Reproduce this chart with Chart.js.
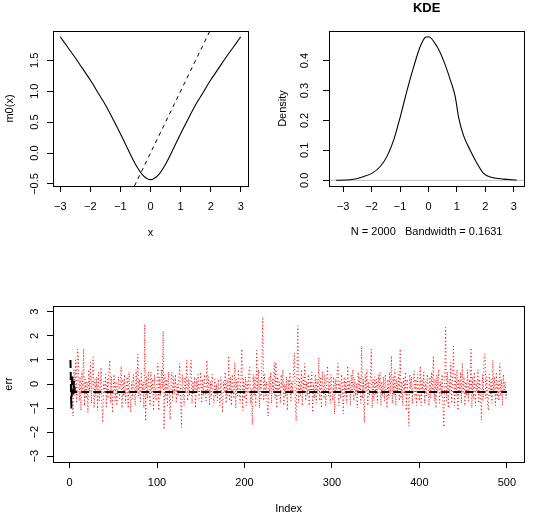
<!DOCTYPE html>
<html>
<head>
<meta charset="utf-8">
<script src="https://cdn.jsdelivr.net/npm/chart.js@4.4.1/dist/chart.umd.min.js"></script>
<style>
  html, body { margin: 0; padding: 0; background: #fff; }
  #wrap { position: relative; width: 540px; height: 517px; }
  canvas { position: absolute; }
</style>
</head>
<body>
<div id="wrap">
  <canvas id="m0Chart" width="270" height="258" style="left:0;top:0"></canvas>
  <canvas id="kdeChart" width="270" height="258" style="left:270px;top:0"></canvas>
  <canvas id="errChart" width="540" height="259" style="left:0;top:258px"></canvas>
</div>
<script>
// panel 1: m0(x) with the identity reference line
const m0X = [-3, -2.75, -2.5, -2.25, -2, -1.75, -1.5, -1.25, -1, -0.75, -0.5, -0.25, 0,
             0.25, 0.5, 0.75, 1, 1.25, 1.5, 1.75, 2, 2.25, 2.5, 2.75, 3];
const m0Y = [1.88, 1.71, 1.54, 1.36, 1.18, 0.98, 0.78, 0.55, 0.31, 0.06, -0.18, -0.36, -0.43,
             -0.36, -0.18, 0.06, 0.31, 0.55, 0.78, 0.98, 1.18, 1.36, 1.54, 1.71, 1.88];
const refX = [-1, 3];
const refY = [-1, 3];
const m0XTicks = [-3, -2, -1, 0, 1, 2, 3];
const m0XTickLabels = ['−3', '−2', '−1', '0', '1', '2', '3'];
const m0YTicks = [-0.5, 0, 0.5, 1, 1.5];
const m0YTickLabels = ['−0.5', '0.0', '0.5', '1.0', '1.5'];

// panel 2: kernel density
const kdeX = [-3.25, -2.75, -2.27, -1.98, -1.69, -1.46, -1.22, -0.99, -0.75, -0.52, -0.29, -0.11, 0,
              0.3, 0.53, 0.77, 0.94, 1.06, 1.23, 1.47, 1.7, 1.93, 2.17, 2.64, 3.1];
const kdeY = [0, 0.002, 0.013, 0.024, 0.047, 0.08, 0.136, 0.213, 0.302, 0.38, 0.447, 0.478, 0.48,
              0.447, 0.40, 0.335, 0.28, 0.21, 0.15, 0.10, 0.058, 0.024, 0.011, 0.004, 0.001];
const kdeZeroX = [-4, 4];
const kdeZeroY = [0, 0];
const kdeXTicks = [-3, -2, -1, 0, 1, 2, 3];
const kdeXTickLabels = ['−3', '−2', '−1', '0', '1', '2', '3'];
const kdeYTicks = [0, 0.1, 0.2, 0.3, 0.4];
const kdeYTickLabels = ['0.0', '0.1', '0.2', '0.3', '0.4'];

// panel 3: err by index (red dotted) and fitted level (black dashed)
const errValues = [
  -0.2, 0.4, -0.9, -1.33, 0.6, -0.5, 1.0, -0.8, 1.45, 1.2,
  -0.7, 0.3, -1.1, 0.5, -0.4, 1.45, -0.9, 0.2, -0.6, 0.1,
  -1.2, 0.6, -0.3, 0.9, -0.8, 0.4, 1.13, -1.0, 0.2, -0.5,
  0.3, -1.1, 0.5, -0.7, -0.2, 0.68, -0.9, -1.6, 0.1, -0.4,
  0.4, -1.0, 0.2, -0.6, 0.5, 0.99, -0.8, 0.3, -1.2, -0.1,
  0.4, -0.7, 0.1, -0.9, -0.2, 0.3, -0.6, 0.0, 0.75, -1.0,
  0.2, -0.5, 0.4, -0.8, -0.1, 0.3, -1.0, 0.5, -0.4, -1.18,
  0.1, -0.6, 0.4, -0.2, -0.9, 0.6, -0.3, 1.24, -0.5, 0.2,
  -0.8, 0.5, -0.4, 0.1, -1.0, 2.49, -1.54, 0.3, -0.6, 0.5,
  -0.2, -0.9, 0.5, -0.4, 0.2, -1.1, 0.4, -0.3, -0.7, 0.1,
  0.86, -1.1, 0.3, -0.5, 0.6, -0.2, 2.2, -1.89, 0.4, -0.6,
  0.2, -0.9, 0.5, -0.3, -1.47, 0.1, 0.5, -0.7, 0.3, -0.4,
  0.4, -0.8, 0.0, -0.5, 0.3, 0.85, -0.6, -1.8, 0.4, -0.2,
  -0.9, 0.3, -0.4, 1.0, -0.7, 0.2, -0.5, 0.6, 0.99, -0.8,
  0.1, -0.4, 0.3, -1.0, 0.2, -0.3, 0.4, -0.6, -0.1, 0.5,
  -0.8, 0.2, -0.5, 0.4, -0.2, -0.7, 0.99, -0.4, 0.3, -0.9,
  0.1, -0.6, 0.4, -0.3, -0.8, 0.2, -0.5, 0.0, -0.7, 0.2,
  -0.4, -0.9, 0.3, -0.6, -1.18, 0.1, -0.3, 0.5, -0.8, 0.2,
  -0.5, 1.17, -0.7, 0.3, -0.9, 0.4, -0.2, -0.6, 0.9, -1.0,
  0.2, -0.5, 0.6, -0.3, -0.8, 0.4, 1.45, -1.1, 0.2, -0.6,
  0.3, -0.9, 0.1, -0.4, 0.5, 0.7, -0.8, -0.2, -1.7, 0.4,
  -0.5, 0.3, -0.9, 1.4, -0.4, 0.6, -1.0, 0.2, -0.6, 0.9,
  2.79, -0.7, 0.4, -0.5, 0.1, -0.9, -1.33, 0.3, -0.4, 0.5,
  -0.8, 0.2, -0.3, 0.9, -0.6, 0.9, -1.0, 0.3, -0.5, 0.1,
  -0.8, 0.4, -0.2, 0.6, -0.9, 0.0, -0.5, 0.3, -1.1, 0.2,
  -0.4, 0.5, -0.7, 0.1, -0.3, 0.6, 1.3, -0.6, -1.54, 0.4,
  2.42, -0.8, 0.2, -0.5, 0.6, -0.9, 0.3, -0.3, 0.85, -0.7,
  0.1, -0.5, 0.4, -0.9, 0.2, -0.3, 0.5, -1.18, 0.0, -0.6,
  0.4, -0.8, 0.2, -0.4, 1.1, -0.7, 0.3, -1.0, 0.5, -0.2,
  -0.6, 0.4, -0.9, 0.1, 0.75, -0.5, 0.2, -0.8, 0.4, -0.3,
  -0.7, 0.3, -1.25, 0.2, -0.4, 0.5, 0.85, -0.9, 0.1, -0.6,
  0.4, -0.2, -1.25, 0.3, -0.5, 0.2, -0.8, 0.75, -0.4, 0.1,
  -0.9, 0.4, -0.3, 0.6, -0.7, 0.2, -0.5, 0.0, -1.0, 0.5,
  -0.4, 0.3, -0.8, 1.58, -0.6, 0.2, -1.61, 0.4, -0.3, 0.6,
  -0.9, 0.1, -0.5, 0.4, 1.45, -1.0, 0.2, -0.7, 0.3, -0.4,
  0.2, -0.8, 0.4, -0.2, 0.5, -0.9, 0.1, -0.5, 0.3, -0.7,
  0.4, -0.3, -1.0, 0.2, -0.6, 0.5, -0.4, 1.17, -0.8, 0.3,
  -0.5, 0.6, -0.9, 0.2, -0.3, 0.4, -0.7, 1.45, -0.6, 0.1,
  -0.9, 0.3, -0.4, 0.5, -1.1, 0.2, -0.5, -1.75, 0.4, -0.2,
  0.3, -0.8, 0.1, 0.55, -0.6, 0.2, -0.9, 0.4, -0.3, -0.7,
  0.75, -0.9, 0.2, -0.4, 0.5, -0.8, 0.1, -0.5, 0.4, -0.2,
  -0.9, 0.3, -0.6, 0.5, -0.4, 1.17, -0.7, 0.2, -1.0, 0.4,
  -0.3, 0.6, -0.8, 0.1, -0.5, 0.4, -0.9, -1.79, 0.3, 2.35,
  -0.7, 0.5, -1.0, 0.2, -0.4, 0.9, -0.8, 0.3, 1.58, -0.9,
  0.4, -0.5, 0.6, -1.1, 0.2, -0.3, 0.5, -0.8, 0.87, -0.4,
  0.3, -0.9, 0.1, -0.5, 0.6, -0.7, 0.2, -0.4, 1.5, -1.0,
  0.3, -0.6, 0.5, -0.9, 0.1, -0.3, 0.6, -0.8, 0.2, -0.5,
  -1.5, 0.4, -0.7, 1.17, 1.24, -0.6, 0.3, -0.9, -1.1, 0.4,
  -0.5, 0.2, -0.8, 0.99, -0.4, 0.3, -0.9, 0.5, -0.6, 0.1,
  -0.7, 0.85, -0.5, 0.2, -0.9, 0.4, -0.3, 0.1, -0.6, -0.2
];
const fitIndex = [1, 2, 3, 4, 5, 6, 500];
const fitValues = [1.0, -1.02, 0.38, -0.42, 0.12, -0.33, -0.33];
const errXTicks = [0, 100, 200, 300, 400, 500];
const errXTickLabels = ['0', '100', '200', '300', '400', '500'];
const errYTicks = [-3, -2, -1, 0, 1, 2, 3];
const errYTickLabels = ['−3', '−2', '−1', '0', '1', '2', '3'];

const FONT = "'Liberation Sans', Arial, Helvetica, sans-serif";

// R-style frame round the plot region
const boxPlugin = {
    id: 'rBox',
    afterDatasetsDraw(chart) {
        const { ctx, chartArea: a } = chart;
        ctx.save();
        ctx.strokeStyle = '#000';
        ctx.lineWidth = 1;
        ctx.strokeRect(Math.round(a.left) + 0.5, Math.round(a.top) + 0.5,
            Math.round(a.right - a.left), Math.round(a.bottom - a.top));
        ctx.restore();
    }
};

// y tick labels turned 90 degrees, as R draws them
const yLabelPlugin = {
    id: 'rYLabels',
    afterDraw(chart, args, opts) {
        const s = chart.scales.y;
        const { ctx, chartArea } = chart;
        ctx.save();
        ctx.font = '11px ' + FONT;
        ctx.fillStyle = '#000';
        ctx.textAlign = 'center';
        ctx.textBaseline = 'middle';
        s.ticks.forEach((t, i) => {
            ctx.save();
            ctx.translate(chartArea.left - opts.offset, s.getPixelForValue(t.value));
            ctx.rotate(-Math.PI / 2);
            ctx.fillText(opts.labels[i], 0, 0);
            ctx.restore();
        });
        ctx.restore();
    }
};

function toPoints(xs, ys) {
    return xs.map((x, i) => ({ x: x, y: ys[i] }));
}

function axis(o) {
    return {
        type: 'linear',
        min: o.min,
        max: o.max,
        afterBuildTicks: s => { s.ticks = o.ticks.map(v => ({ value: v })); },
        afterFit: s => {
            if (o.width) s.width = o.width;
            if (o.height) s.height = o.height;
        },
        border: { display: false },
        grid: { drawOnChartArea: false, drawTicks: true, tickLength: 6, color: '#000', lineWidth: 1 },
        ticks: {
            display: !!o.showLabels,
            padding: 8.5,
            color: '#000',
            autoSkip: false,
            maxRotation: 0,
            font: { family: FONT, size: 11 },
            callback: (v, i) => o.labels[i]
        },
        title: {
            display: true,
            text: o.title,
            color: '#000',
            font: { family: FONT, size: 11 },
            padding: o.titlePad
        }
    };
}

function basePlugins(labels, offset) {
    return {
        legend: { display: false },
        tooltip: { enabled: false },
        rYLabels: { labels: labels, offset: offset }
    };
}

new Chart(document.getElementById('m0Chart'), {
    type: 'line',
    data: {
        datasets: [{
            data: toPoints(refX, refY),
            borderColor: '#000',
            borderWidth: 1,
            borderDash: [4, 4],
            pointRadius: 0,
            clip: 0
        }, {
            data: toPoints(m0X, m0Y),
            borderColor: '#000',
            borderWidth: 1.1,
            pointRadius: 0,
            cubicInterpolationMode: 'monotone'
        }]
    },
    options: {
        responsive: false,
        animation: false,
        events: [],
        layout: { padding: { left: 0, top: 31, right: 22, bottom: 0 } },
        plugins: basePlugins(m0YTickLabels, 18),
        scales: {
            x: axis({ min: -3.24, max: 3.24, ticks: m0XTicks, labels: m0XTickLabels, showLabels: true,
                      height: 72, title: 'x', titlePad: { top: 0, bottom: 18.7 } }),
            y: axis({ min: -0.533, max: 1.973, ticks: m0YTicks, labels: m0YTickLabels,
                      width: 53, title: 'm0(x)', titlePad: { top: 3.4, bottom: 0 } })
        }
    },
    plugins: [boxPlugin, yLabelPlugin]
});

new Chart(document.getElementById('kdeChart'), {
    type: 'line',
    data: {
        datasets: [{
            data: toPoints(kdeX, kdeY),
            borderColor: '#000',
            borderWidth: 1.1,
            pointRadius: 0,
            cubicInterpolationMode: 'monotone'
        }, {
            data: toPoints(kdeZeroX, kdeZeroY),
            borderColor: '#bebebe',
            borderWidth: 1,
            pointRadius: 0,
            clip: 0
        }]
    },
    options: {
        responsive: false,
        animation: false,
        events: [],
        layout: { padding: { left: 0, top: 0, right: 15.7, bottom: 0 } },
        plugins: Object.assign(basePlugins(kdeYTickLabels, 24), {
            title: {
                display: true,
                text: 'KDE',
                fullSize: false,
                color: '#000',
                font: { family: FONT, size: 13, weight: 'bold', lineHeight: 1 },
                padding: { top: 2, bottom: 16 }
            }
        }),
        scales: {
            x: axis({ min: -3.5, max: 3.37, ticks: kdeXTicks, labels: kdeXTickLabels, showLabels: true,
                      height: 72, title: 'N = 2000   Bandwidth = 0.1631', titlePad: { top: 0, bottom: 19.7 } }),
            y: axis({ min: -0.019, max: 0.499, ticks: kdeYTicks, labels: kdeYTickLabels,
                      width: 59, title: 'Density', titlePad: { top: 6.7, bottom: 0 } })
        }
    },
    plugins: [boxPlugin, yLabelPlugin]
});

new Chart(document.getElementById('errChart'), {
    type: 'line',
    data: {
        datasets: [{
            data: toPoints(fitIndex, fitValues),
            borderColor: '#000',
            borderWidth: 2,
            borderDash: [8, 4],
            pointRadius: 0
        }, {
            data: errValues.map((v, i) => ({ x: i + 1, y: v })),
            borderColor: '#ff0000',
            borderWidth: 1,
            borderDash: [1, 2.5],
            pointRadius: 0
        }]
    },
    options: {
        responsive: false,
        animation: false,
        events: [],
        layout: { padding: { left: 0, top: 48, right: 15.7, bottom: 0 } },
        plugins: basePlugins(errYTickLabels, 18),
        scales: {
            x: axis({ min: -18.96, max: 519.96, ticks: errXTicks, labels: errXTickLabels, showLabels: true,
                      height: 55, title: 'Index', titlePad: { top: 0, bottom: 1.4 } }),
            y: axis({ min: -3.24, max: 3.24, ticks: errYTicks, labels: errYTickLabels,
                      width: 53, title: 'err', titlePad: { top: 2.4, bottom: 0 } })
        }
    },
    plugins: [boxPlugin, yLabelPlugin]
});
</script>
</body>
</html>
